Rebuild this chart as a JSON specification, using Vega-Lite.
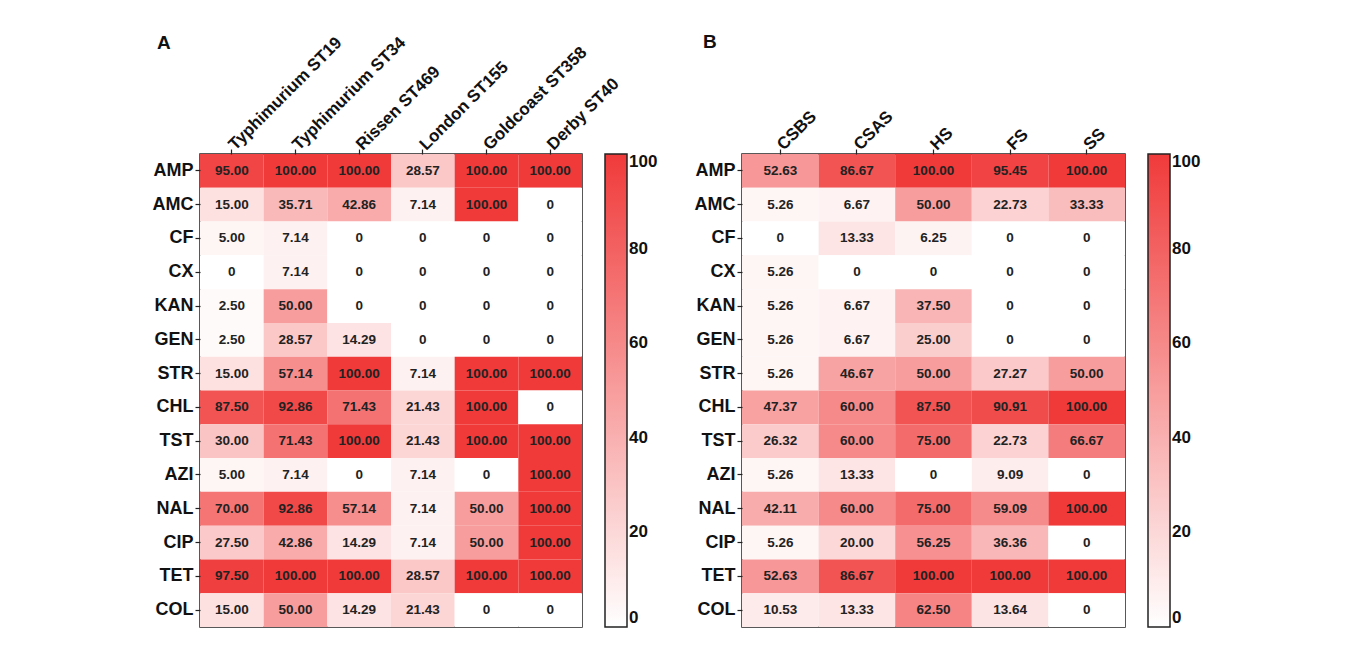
{
  "$schema": "https://vega.github.io/schema/vega-lite/v6.json",
  "padding": {"left": 151, "top": 32, "right": 5, "bottom": 5},
  "background": "white",
  "spacing": 34,
  "config": {
    "font": "Liberation Sans",
    "view": {"stroke": "#222", "strokeWidth": 1.5},
    "axis": {"labelFont": "Liberation Sans", "labelFontSize": 18, "labelFontWeight": "bold", "labelColor": "#111", "tickColor": "#222", "tickSize": 5, "tickWidth": 1.2, "domain": false, "grid": false, "title": null, "labelPadding": 2},
    "legend": {"labelFont": "Liberation Sans", "labelFontSize": 17, "labelFontWeight": "bold", "labelColor": "#111", "gradientLength": 473, "gradientThickness": 22, "gradientStrokeColor": "#222", "gradientStrokeWidth": 1.5, "offset": 23, "labelOffset": 10, "labelBaseline": "middle", "titleFontSize": 1},
    "title": {"font": "Liberation Sans", "fontSize": 19, "fontWeight": "bold", "color": "#111", "anchor": "start", "frame": "bounds"}
  },
  "datasets": {
    "a": [
      {"drug":"AMP","group":"Typhimurium ST19","value":95},{"drug":"AMP","group":"Typhimurium ST34","value":100},{"drug":"AMP","group":"Rissen ST469","value":100},{"drug":"AMP","group":"London ST155","value":28.57},{"drug":"AMP","group":"Goldcoast ST358","value":100},{"drug":"AMP","group":"Derby ST40","value":100},
      {"drug":"AMC","group":"Typhimurium ST19","value":15},{"drug":"AMC","group":"Typhimurium ST34","value":35.71},{"drug":"AMC","group":"Rissen ST469","value":42.86},{"drug":"AMC","group":"London ST155","value":7.14},{"drug":"AMC","group":"Goldcoast ST358","value":100},{"drug":"AMC","group":"Derby ST40","value":0},
      {"drug":"CF","group":"Typhimurium ST19","value":5},{"drug":"CF","group":"Typhimurium ST34","value":7.14},{"drug":"CF","group":"Rissen ST469","value":0},{"drug":"CF","group":"London ST155","value":0},{"drug":"CF","group":"Goldcoast ST358","value":0},{"drug":"CF","group":"Derby ST40","value":0},
      {"drug":"CX","group":"Typhimurium ST19","value":0},{"drug":"CX","group":"Typhimurium ST34","value":7.14},{"drug":"CX","group":"Rissen ST469","value":0},{"drug":"CX","group":"London ST155","value":0},{"drug":"CX","group":"Goldcoast ST358","value":0},{"drug":"CX","group":"Derby ST40","value":0},
      {"drug":"KAN","group":"Typhimurium ST19","value":2.5},{"drug":"KAN","group":"Typhimurium ST34","value":50},{"drug":"KAN","group":"Rissen ST469","value":0},{"drug":"KAN","group":"London ST155","value":0},{"drug":"KAN","group":"Goldcoast ST358","value":0},{"drug":"KAN","group":"Derby ST40","value":0},
      {"drug":"GEN","group":"Typhimurium ST19","value":2.5},{"drug":"GEN","group":"Typhimurium ST34","value":28.57},{"drug":"GEN","group":"Rissen ST469","value":14.29},{"drug":"GEN","group":"London ST155","value":0},{"drug":"GEN","group":"Goldcoast ST358","value":0},{"drug":"GEN","group":"Derby ST40","value":0},
      {"drug":"STR","group":"Typhimurium ST19","value":15},{"drug":"STR","group":"Typhimurium ST34","value":57.14},{"drug":"STR","group":"Rissen ST469","value":100},{"drug":"STR","group":"London ST155","value":7.14},{"drug":"STR","group":"Goldcoast ST358","value":100},{"drug":"STR","group":"Derby ST40","value":100},
      {"drug":"CHL","group":"Typhimurium ST19","value":87.5},{"drug":"CHL","group":"Typhimurium ST34","value":92.86},{"drug":"CHL","group":"Rissen ST469","value":71.43},{"drug":"CHL","group":"London ST155","value":21.43},{"drug":"CHL","group":"Goldcoast ST358","value":100},{"drug":"CHL","group":"Derby ST40","value":0},
      {"drug":"TST","group":"Typhimurium ST19","value":30},{"drug":"TST","group":"Typhimurium ST34","value":71.43},{"drug":"TST","group":"Rissen ST469","value":100},{"drug":"TST","group":"London ST155","value":21.43},{"drug":"TST","group":"Goldcoast ST358","value":100},{"drug":"TST","group":"Derby ST40","value":100},
      {"drug":"AZI","group":"Typhimurium ST19","value":5},{"drug":"AZI","group":"Typhimurium ST34","value":7.14},{"drug":"AZI","group":"Rissen ST469","value":0},{"drug":"AZI","group":"London ST155","value":7.14},{"drug":"AZI","group":"Goldcoast ST358","value":0},{"drug":"AZI","group":"Derby ST40","value":100},
      {"drug":"NAL","group":"Typhimurium ST19","value":70},{"drug":"NAL","group":"Typhimurium ST34","value":92.86},{"drug":"NAL","group":"Rissen ST469","value":57.14},{"drug":"NAL","group":"London ST155","value":7.14},{"drug":"NAL","group":"Goldcoast ST358","value":50},{"drug":"NAL","group":"Derby ST40","value":100},
      {"drug":"CIP","group":"Typhimurium ST19","value":27.5},{"drug":"CIP","group":"Typhimurium ST34","value":42.86},{"drug":"CIP","group":"Rissen ST469","value":14.29},{"drug":"CIP","group":"London ST155","value":7.14},{"drug":"CIP","group":"Goldcoast ST358","value":50},{"drug":"CIP","group":"Derby ST40","value":100},
      {"drug":"TET","group":"Typhimurium ST19","value":97.5},{"drug":"TET","group":"Typhimurium ST34","value":100},{"drug":"TET","group":"Rissen ST469","value":100},{"drug":"TET","group":"London ST155","value":28.57},{"drug":"TET","group":"Goldcoast ST358","value":100},{"drug":"TET","group":"Derby ST40","value":100},
      {"drug":"COL","group":"Typhimurium ST19","value":15},{"drug":"COL","group":"Typhimurium ST34","value":50},{"drug":"COL","group":"Rissen ST469","value":14.29},{"drug":"COL","group":"London ST155","value":21.43},{"drug":"COL","group":"Goldcoast ST358","value":0},{"drug":"COL","group":"Derby ST40","value":0}
    ],
    "b": [
      {"drug":"AMP","group":"CSBS","value":52.63},{"drug":"AMP","group":"CSAS","value":86.67},{"drug":"AMP","group":"HS","value":100},{"drug":"AMP","group":"FS","value":95.45},{"drug":"AMP","group":"SS","value":100},
      {"drug":"AMC","group":"CSBS","value":5.26},{"drug":"AMC","group":"CSAS","value":6.67},{"drug":"AMC","group":"HS","value":50},{"drug":"AMC","group":"FS","value":22.73},{"drug":"AMC","group":"SS","value":33.33},
      {"drug":"CF","group":"CSBS","value":0},{"drug":"CF","group":"CSAS","value":13.33},{"drug":"CF","group":"HS","value":6.25},{"drug":"CF","group":"FS","value":0},{"drug":"CF","group":"SS","value":0},
      {"drug":"CX","group":"CSBS","value":5.26},{"drug":"CX","group":"CSAS","value":0},{"drug":"CX","group":"HS","value":0},{"drug":"CX","group":"FS","value":0},{"drug":"CX","group":"SS","value":0},
      {"drug":"KAN","group":"CSBS","value":5.26},{"drug":"KAN","group":"CSAS","value":6.67},{"drug":"KAN","group":"HS","value":37.5},{"drug":"KAN","group":"FS","value":0},{"drug":"KAN","group":"SS","value":0},
      {"drug":"GEN","group":"CSBS","value":5.26},{"drug":"GEN","group":"CSAS","value":6.67},{"drug":"GEN","group":"HS","value":25},{"drug":"GEN","group":"FS","value":0},{"drug":"GEN","group":"SS","value":0},
      {"drug":"STR","group":"CSBS","value":5.26},{"drug":"STR","group":"CSAS","value":46.67},{"drug":"STR","group":"HS","value":50},{"drug":"STR","group":"FS","value":27.27},{"drug":"STR","group":"SS","value":50},
      {"drug":"CHL","group":"CSBS","value":47.37},{"drug":"CHL","group":"CSAS","value":60},{"drug":"CHL","group":"HS","value":87.5},{"drug":"CHL","group":"FS","value":90.91},{"drug":"CHL","group":"SS","value":100},
      {"drug":"TST","group":"CSBS","value":26.32},{"drug":"TST","group":"CSAS","value":60},{"drug":"TST","group":"HS","value":75},{"drug":"TST","group":"FS","value":22.73},{"drug":"TST","group":"SS","value":66.67},
      {"drug":"AZI","group":"CSBS","value":5.26},{"drug":"AZI","group":"CSAS","value":13.33},{"drug":"AZI","group":"HS","value":0},{"drug":"AZI","group":"FS","value":9.09},{"drug":"AZI","group":"SS","value":0},
      {"drug":"NAL","group":"CSBS","value":42.11},{"drug":"NAL","group":"CSAS","value":60},{"drug":"NAL","group":"HS","value":75},{"drug":"NAL","group":"FS","value":59.09},{"drug":"NAL","group":"SS","value":100},
      {"drug":"CIP","group":"CSBS","value":5.26},{"drug":"CIP","group":"CSAS","value":20},{"drug":"CIP","group":"HS","value":56.25},{"drug":"CIP","group":"FS","value":36.36},{"drug":"CIP","group":"SS","value":0},
      {"drug":"TET","group":"CSBS","value":52.63},{"drug":"TET","group":"CSAS","value":86.67},{"drug":"TET","group":"HS","value":100},{"drug":"TET","group":"FS","value":100},{"drug":"TET","group":"SS","value":100},
      {"drug":"COL","group":"CSBS","value":10.53},{"drug":"COL","group":"CSAS","value":13.33},{"drug":"COL","group":"HS","value":62.5},{"drug":"COL","group":"FS","value":13.64},{"drug":"COL","group":"SS","value":0}
    ]
  },
  "resolve": {"scale": {"color": "independent"}, "legend": {"color": "independent"}},
  "hconcat": [
    {
      "data": {"name": "a"},
      "title": {"text": "A", "dy": 24, "dx": 5},
      "width": 382,
      "height": 473,
      "encoding": {
        "x": {"field": "group", "type": "nominal", "sort": ["Typhimurium ST19","Typhimurium ST34","Rissen ST469","London ST155","Goldcoast ST358","Derby ST40"], "scale": {"paddingInner": 0, "paddingOuter": 0}, "axis": {"orient": "top", "labelAngle": -45, "labelAlign": "left", "labelBaseline": "middle", "labelFontSize": 17}},
        "y": {"field": "drug", "type": "nominal", "sort": ["AMP","AMC","CF","CX","KAN","GEN","STR","CHL","TST","AZI","NAL","CIP","TET","COL"], "scale": {"paddingInner": 0, "paddingOuter": 0}}
      },
      "layer": [
        {"mark": {"type": "rect"}, "encoding": {"color": {"field": "value", "type": "quantitative", "scale": {"type": "linear", "domain": [0, 100], "range": ["#ffffff", "#f03a3a"], "interpolate": "rgb", "zero": false, "nice": false}, "legend": {"title": null, "values": [0, 20, 40, 60, 80, 100]}}}},
        {"mark": {"type": "text", "font": "Liberation Sans", "fontSize": 13.5, "fontWeight": "bold", "color": "#222"}, "encoding": {"text": {"condition": {"test": "datum.value === 0", "value": "0"}, "field": "value", "type": "quantitative", "format": ".2f"}}}
      ]
    },
    {
      "data": {"name": "b"},
      "title": {"text": "B", "dy": -51, "dx": 9},
      "width": 383,
      "height": 473,
      "encoding": {
        "x": {"field": "group", "type": "nominal", "sort": ["CSBS","CSAS","HS","FS","SS"], "scale": {"paddingInner": 0, "paddingOuter": 0}, "axis": {"orient": "top", "labelAngle": -45, "labelAlign": "left", "labelBaseline": "middle", "labelFontSize": 17}},
        "y": {"field": "drug", "type": "nominal", "sort": ["AMP","AMC","CF","CX","KAN","GEN","STR","CHL","TST","AZI","NAL","CIP","TET","COL"], "scale": {"paddingInner": 0, "paddingOuter": 0}}
      },
      "layer": [
        {"mark": {"type": "rect"}, "encoding": {"color": {"field": "value", "type": "quantitative", "scale": {"type": "linear", "domain": [0, 100], "range": ["#ffffff", "#f03a3a"], "interpolate": "rgb", "zero": false, "nice": false}, "legend": {"title": null, "values": [0, 20, 40, 60, 80, 100]}}}},
        {"mark": {"type": "text", "font": "Liberation Sans", "fontSize": 13.5, "fontWeight": "bold", "color": "#222"}, "encoding": {"text": {"condition": {"test": "datum.value === 0", "value": "0"}, "field": "value", "type": "quantitative", "format": ".2f"}}}
      ]
    }
  ]
}
